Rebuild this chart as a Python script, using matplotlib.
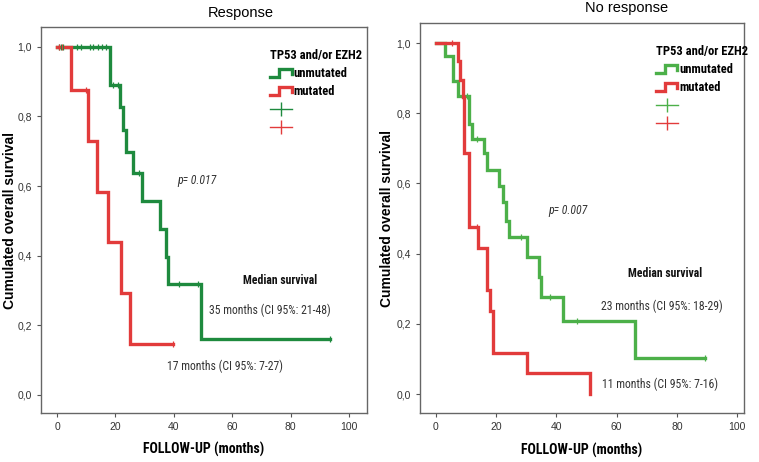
import matplotlib
matplotlib.use('Agg')
import numpy as np
import matplotlib.pyplot as plt
from matplotlib import font_manager
from matplotlib.lines import Line2D
from matplotlib.legend_handler import HandlerBase

# --- data ---
resp_unmut_t = [0, 18.0, 21.5, 22.7, 23.6, 26.1, 29.2, 35.3, 37.2, 37.9, 49.3, 93.5]
resp_unmut_s = [1.0, 0.889, 0.827, 0.761, 0.699, 0.637, 0.557, 0.477, 0.397, 0.319, 0.160, 0.160]
resp_unmut_cens = [0.5, 1.3, 2.0, 6.9, 8.3, 11.2, 12.3, 14.0, 15.5, 16.9, 19.2, 20.9, 28.0, 41.8, 48.3, 93.5]

resp_mut_t = [0, 4.9, 10.7, 13.6, 17.4, 21.9, 25.0, 39.6]
resp_mut_s = [1.0, 0.875, 0.729, 0.583, 0.438, 0.292, 0.146, 0.146]
resp_mut_cens = [0.8, 1.8, 9.9, 39.6]

nore_unmut_t = [0, 3.0, 5.8, 7.2, 10.9, 12.1, 15.8, 17.0, 20.9, 22.2, 23.4, 24.3, 30.2, 34.2, 35.0, 42.1, 66.1, 89.4]
nore_unmut_s = [1.0, 0.964, 0.893, 0.850, 0.770, 0.728, 0.686, 0.638, 0.593, 0.546, 0.494, 0.447, 0.390, 0.333, 0.278, 0.209, 0.104, 0.104]
nore_unmut_cens = [10.3, 13.5, 28.3, 37.9, 46.7, 89.4]

nore_mut_t = [0, 7.4, 8.0, 8.9, 9.3, 10.8, 14.0, 17.0, 17.9, 19.0, 30.2, 51.0]
nore_mut_s = [1.0, 0.95, 0.895, 0.846, 0.686, 0.475, 0.415, 0.297, 0.237, 0.118, 0.059, 0.0]
nore_mut_cens = [5.2, 13.5]

x_ticks = [0, 20, 40, 60, 80, 100]
y_ticks = [0.0, 0.2, 0.4, 0.6, 0.8, 1.0]
y_ticklabels = ['0,0', '0,2', '0,4', '0,6', '0,8', '1,0']

names = {f.name for f in font_manager.fontManager.ttflist}
narrow = 'Liberation Sans'
for cand in ['Liberation Sans Narrow', 'Roboto Condensed', 'Open Sans Condensed']:
  if cand in names:
    narrow = cand
    break
is_narrow = narrow != 'Liberation Sans'
plt.rcParams['font.family'] = ['Liberation Sans', 'DejaVu Sans']

RED = '#e23b3b'
# font sizes depend on whether a condensed face was found
leg_size = 9 if is_narrow else 7.8
ann_size = 8.5 if is_narrow else 7.6
xlab_size = 10 if is_narrow else 8.6


def surv_at(times, surv, t):
  idx = np.searchsorted(np.array(times), np.array(t), side='right') - 1
  return np.array(surv)[idx]


class StepHandler(HandlerBase):
  def create_artists(self, legend, orig_handle, xdescent, ydescent, width, height, fontsize, trans):
    xs = np.array([0, 0.4, 0.4, 0.97, 0.97]) * width - xdescent
    ys = np.array([0.05, 0.05, 0.95, 0.95, 0.35]) * height - ydescent
    ln = Line2D(xs, ys, color=orig_handle.get_color(), lw=orig_handle.get_linewidth(),
                solid_joinstyle='miter', transform=trans)
    return [ln]


def km_panel(ax, green, t_u, s_u, c_u, t_m, s_m, c_m, xlim, ylim, ylab_x, leg_x):
  ax.step(t_u, s_u, where='post', color=green, lw=2.4, solid_joinstyle='miter')
  ax.step(t_m, s_m, where='post', color=RED, lw=2.4, solid_joinstyle='miter')
  ax.plot(c_u, surv_at(t_u, s_u, c_u), ls='none', marker='|', ms=5, mew=0.9, color=green)
  ax.plot(c_m, surv_at(t_m, s_m, c_m), ls='none', marker='|', ms=5, mew=0.9, color=RED)
  ax.set_xlim(*xlim)
  ax.set_ylim(*ylim)
  ax.set_xticks(x_ticks)
  ax.set_yticks(y_ticks)
  ax.set_yticklabels(y_ticklabels)
  ax.tick_params(labelsize=7.5, labelcolor='#333333', color='#555555', length=3, width=0.8)
  for sp in ax.spines.values():
    sp.set_color('#666666')
    sp.set_linewidth(1.0)
  ax.set_xlabel('FOLLOW-UP (months)', fontsize=xlab_size, fontweight='bold', family=narrow)
  ax.xaxis.set_label_coords(0.5, -0.076)
  ax.set_ylabel('Cumulated overall survival', fontsize=10, fontweight='bold')
  ax.yaxis.set_label_coords(ylab_x, 0.5)

  handles = [Line2D([], [], color=green, lw=2.4), Line2D([], [], color=RED, lw=2.4),
             Line2D([], [], color=green, lw=1.0, marker='|', ms=10, mew=1.0),
             Line2D([], [], color=RED, lw=1.0, marker='|', ms=10, mew=1.0)]
  leg = ax.legend(handles, ['unmutated', 'mutated', '', ''],
                  handler_map={handles[0]: StepHandler(), handles[1]: StepHandler()},
                  title='TP53 and/or EZH2', frameon=False, loc='upper left',
                  bbox_to_anchor=(leg_x, 0.965), alignment='left',
                  prop=dict(family=narrow, weight='bold', size=leg_size),
                  title_fontproperties=dict(family=narrow, weight='bold', size=leg_size),
                  handlelength=1.8, handletextpad=0.1, labelspacing=0.4, borderpad=0.2)
  return leg


fig = plt.figure(figsize=(7.59, 4.62), dpi=100)
ax1 = fig.add_axes([0.054, 0.106, 0.4296, 0.8356])
ax2 = fig.add_axes([0.5534, 0.106, 0.4269, 0.844])

km_panel(ax1, '#1e8a3e', resp_unmut_t, resp_unmut_s, resp_unmut_cens,
         resp_mut_t, resp_mut_s, resp_mut_cens, (-5.5, 106.2), (-0.052, 1.057), -0.075, 0.675)
km_panel(ax2, '#4cb049', nore_unmut_t, nore_unmut_s, nore_unmut_cens,
         nore_mut_t, nore_mut_s, nore_mut_cens, (-5.3, 102.3), (-0.054, 1.057), -0.080, 0.70)

txt = dict(fontsize=ann_size, color='#333333', family=narrow)
bold = dict(fontsize=ann_size, fontweight='bold', color='#111111', family=narrow)
ax1.text(41.1, 0.615, 'p= 0.017', style='italic', va='center', **txt)
ax1.text(63.7, 0.33, 'Median survival', va='center', **bold)
ax1.text(52.2, 0.244, '35 months (CI 95%: 21-48)', va='center', **txt)
ax1.text(37.6, 0.081, '17 months (CI 95%: 7-27)', va='center', **txt)

ax2.text(37.3, 0.522, 'p= 0.007', style='italic', va='center', **txt)
ax2.text(63.9, 0.344, 'Median survival', va='center', **bold)
ax2.text(54.7, 0.251, '23 months (CI 95%: 18-29)', va='center', **txt)
ax2.text(55.0, 0.028, '11 months (CI 95%: 7-16)', va='center', **txt)

fig.text(241 / 759, 1 - 13 / 462, 'Response', ha='center', va='center', fontsize=10.5)
fig.text(627 / 759, 1 - 8 / 462, 'No response', ha='center', va='center', fontsize=10.5)

fig.savefig('out.png', dpi=100)
